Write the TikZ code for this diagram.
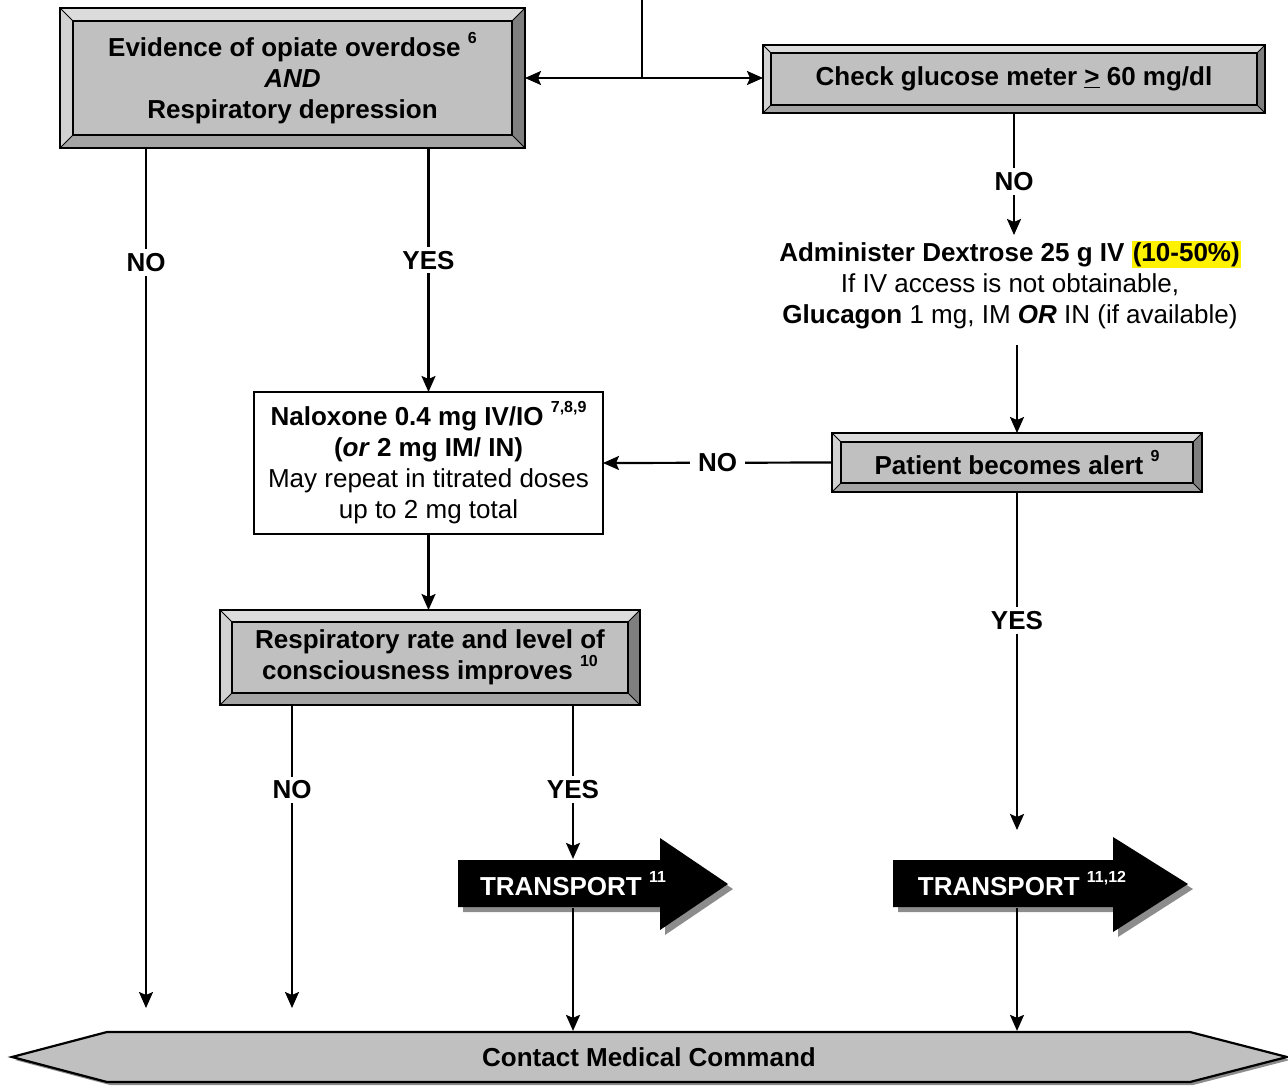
\documentclass[tikz,border=0pt]{standalone}
\usepackage{fontspec}
\setmainfont{Liberation Sans}
\usetikzlibrary{arrows.meta}
\definecolor{facegray}{HTML}{C0C0C0}
\definecolor{bevtop}{HTML}{DCDCDC}
\definecolor{bevleft}{HTML}{D2D2D2}
\definecolor{bevright}{HTML}{7F7F7F}
\definecolor{bevbot}{HTML}{A4A4A4}
\definecolor{shadegray}{HTML}{8C8C8C}
\newcommand\fnote[1]{\raisebox{0.5em}{\fontsize{16}{16}\selectfont\bfseries #1}}
\newcommand\bevelframe[2]{%
  \fill[bevtop] (#1.north west) -- (#1.north east) -- ([xshift=-#2pt,yshift=-#2pt]#1.north east) -- ([xshift=#2pt,yshift=-#2pt]#1.north west) -- cycle;
  \fill[bevleft] (#1.north west) -- ([xshift=#2pt,yshift=-#2pt]#1.north west) -- ([xshift=#2pt,yshift=#2pt]#1.south west) -- (#1.south west) -- cycle;
  \fill[bevright] (#1.north east) -- ([xshift=-#2pt,yshift=-#2pt]#1.north east) -- ([xshift=-#2pt,yshift=#2pt]#1.south east) -- (#1.south east) -- cycle;
  \fill[bevbot] (#1.south west) -- ([xshift=#2pt,yshift=#2pt]#1.south west) -- ([xshift=-#2pt,yshift=#2pt]#1.south east) -- (#1.south east) -- cycle;
  \draw[line width=1pt] (#1.north west) -- ([xshift=#2pt,yshift=-#2pt]#1.north west)
    (#1.north east) -- ([xshift=-#2pt,yshift=-#2pt]#1.north east)
    (#1.south east) -- ([xshift=-#2pt,yshift=#2pt]#1.south east)
    (#1.south west) -- ([xshift=#2pt,yshift=#2pt]#1.south west);
  \draw[line width=1.8pt] ([xshift=#2pt,yshift=-#2pt]#1.north west) rectangle ([xshift=-#2pt,yshift=#2pt]#1.south east);
  \draw (#1.north west) rectangle (#1.south east);
}
\tikzset{
  bevelbox/.style={draw, fill=facegray, outer sep=0pt, inner sep=0pt, align=center,
    font=\fontsize{26}{31}\selectfont\bfseries},
  whitebox/.style={draw, fill=white, outer sep=0pt, inner sep=0pt, align=center},
  lbl/.style={fill=white, inner sep=4pt, font=\fontsize{26}{31}\selectfont\bfseries},
  trtext/.style={text=white, inner sep=0pt, minimum height=47pt,
    font=\fontsize{26}{31}\selectfont\bfseries},
}
\begin{document}
\begin{tikzpicture}[x=1pt, y=-1pt, line width=2.2pt,
  >={Stealth[length=16pt,width=14pt,inset=3pt]},
  font=\fontsize{26}{31}\selectfont]
	\useasboundingbox (0,0) rectangle (1288,1085);
	% boxes
	\node[bevelbox, minimum width=465, minimum height=140] (evid) at (292.5,78)
		{Evidence of opiate overdose \fnote{6}\\\textit{AND}\\Respiratory depression};
	\bevelframe{evid}{13}
	\node[bevelbox, minimum width=502, minimum height=68] (gluc) at (1014,79)
		{Check glucose meter \underline{>} 60 mg/dl};
	\bevelframe{gluc}{8}
	\node[align=center, inner sep=0pt] (dext) at (1010,285)
		{\textbf{Administer Dextrose 25 g IV {\setlength\fboxsep{1pt}\colorbox{yellow}{(10-50\%)}}}\\
		If IV access is not obtainable,\\
		\textbf{Glucagon} 1 mg, IM \textbf{\textit{OR}} IN (if available)};
	\node[bevelbox, minimum width=370, minimum height=59] (alert) at (1017,462.5)
		{Patient becomes alert \fnote{9}};
	\bevelframe{alert}{9}
	\node[whitebox, minimum width=349, minimum height=142] (nalox) at (428.5,463)
		{\raisebox{3pt}{\parbox{340pt}{\centering
		\textbf{Naloxone 0.4 mg IV/IO \fnote{7,8,9}}\\\textbf{(\textit{or} 2 mg IM/ IN)}\\
		May repeat in titrated doses\\up to 2 mg total}}};
	\node[bevelbox, minimum width=420, minimum height=95] (resp) at (430,657.5)
		{Respiratory rate and level of\\consciousness improves \fnote{10}};
	\bevelframe{resp}{12}
	% transport arrows
	\fill[shadegray] (463,865) -- (665,865) -- (665,843) -- (733,889) -- (665,935) -- (665,912) -- (463,912) -- cycle;
	\fill[black] (458,860) -- (660,860) -- (660,838) -- (728,884) -- (660,930) -- (660,907) -- (458,907) -- cycle;
	\node[trtext] (tr1) at (573,883.5) {TRANSPORT \fnote{11}};
	\fill[shadegray] (898,865) -- (1118,865) -- (1118,842) -- (1193,889) -- (1118,937) -- (1118,912) -- (898,912) -- cycle;
	\fill[black] (893,860) -- (1113,860) -- (1113,837) -- (1188,884) -- (1113,932) -- (1113,907) -- (893,907) -- cycle;
	\node[trtext] (tr2) at (1022,883.5) {TRANSPORT \fnote{11,12}};
	% medical command
	\fill[shadegray] (15,1060) -- (110,1035) -- (1193,1035) -- (1290,1060) -- (1193,1085) -- (110,1085) -- cycle;
	\filldraw[fill=facegray] (12,1057) -- (107,1032) -- (1190,1032) -- (1287,1057) -- (1190,1082) -- (107,1082) -- cycle;
	\node[inner sep=0pt, minimum height=50pt, font=\fontsize{26}{31}\selectfont\bfseries] (cmd) at (649,1057)
		{Contact Medical Command};
	% connectors
	\coordinate (top) at (642,0);
	\coordinate (noend1) at (146,1008);
	\coordinate (noend2) at (292,1008);
	\draw[<->] (evid.east) -- (evid.east -| gluc.west);
	\draw (top) -- (top |- evid.east);
	\draw[->] (evid.south -| noend1) -- (noend1) node[lbl, pos=0.133] {NO};
	\draw[->] (evid.south -| nalox.north) -- (nalox.north) node[lbl, pos=0.46] {YES};
	\draw[->] (gluc.south) -- ++(0,122) node[lbl, pos=0.56] {NO};
	\draw[<-] (alert.north) -- ++(0,-88);
	\draw[->] (alert.west) -- (nalox.east) node[lbl, inner xsep=8pt, midway] {NO};
	\draw[->] (alert.south) -- ++(0,338) node[lbl, pos=0.38] {YES};
	\draw[->] (nalox.south) -- (nalox.south |- resp.north);
	\draw[->] (resp.south -| noend2) -- (noend2) node[lbl, pos=0.28] {NO};
	\draw[->] (resp.south -| tr1.north) -- (tr1.north) node[lbl, pos=0.55] {YES};
	\draw[->] (tr1.south) -- (tr1.south |- cmd.north);
	\draw[->] (tr2.south -| alert.south) -- (alert.south |- cmd.north);
\end{tikzpicture}
\end{document}
